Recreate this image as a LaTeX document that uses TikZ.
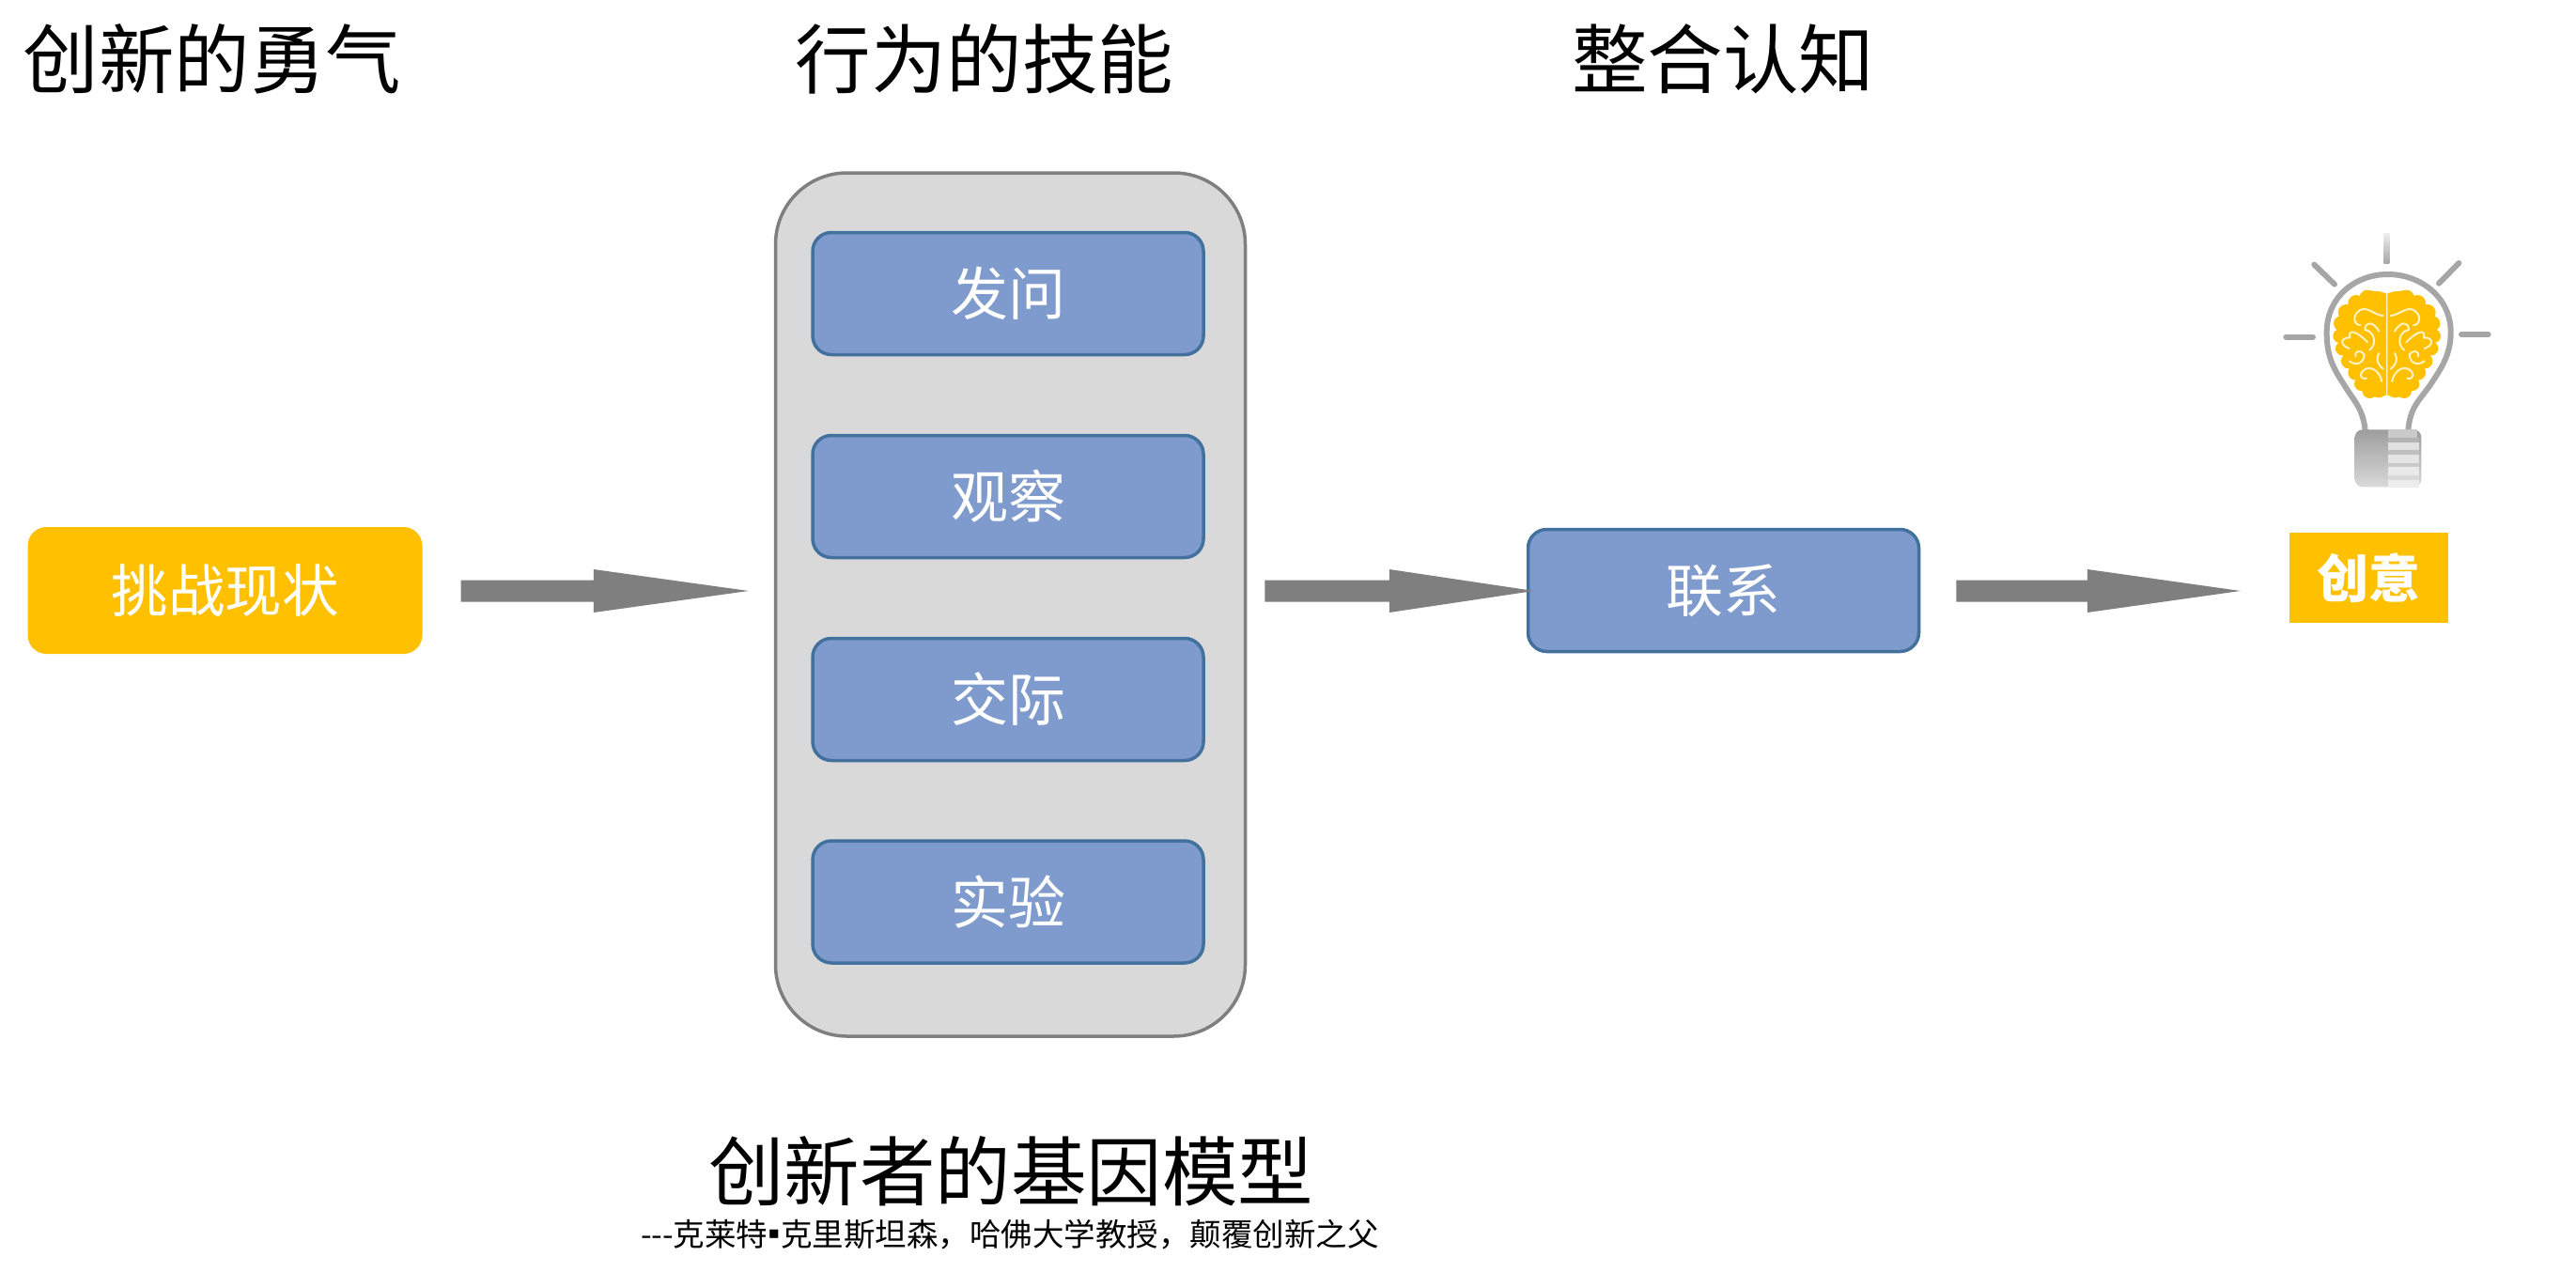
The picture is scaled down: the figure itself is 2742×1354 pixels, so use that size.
\documentclass[tikz,border=0pt]{standalone}
\usepackage{fontspec}
\setmainfont{Noto Sans CJK SC}
\usetikzlibrary{calc}
\definecolor{blueF}{HTML}{7F9BCD}
\definecolor{blueD}{HTML}{41719C}
\definecolor{grayF}{HTML}{D9D9D9}
\definecolor{grayD}{HTML}{7F7F7F}
\definecolor{goldF}{HTML}{FFC000}
\definecolor{rayC}{HTML}{A6A6A6}
\definecolor{brainL}{HTML}{FFF2C4}
\newcommand{\fs}[1]{\fontsize{#1}{#1}\selectfont}
\tikzset{
  x=1pt,y=-1pt,
  titletext/.style={inner sep=0,anchor=center,font=\fs{80.5},text=black},
  skillbox/.style={draw=blueD,fill=blueF,line width=3.5pt,rounded corners=20pt,minimum width=416pt,minimum height=130pt,inner sep=0,text=white,font=\fs{61}},
  goldbox/.style={fill=goldF,inner sep=0,text=white},
  blockarrow/.style={fill=grayD,draw=none},
  ray/.style={line width=6pt,line cap=round,rayC},
}
% #1 tail coordinate, #2 tip coordinate, #3 head length
\newcommand{\blockarrow}[3]{%
  \fill[blockarrow] (#1)++(0,-11.5) -- ($(#2)+(-#3,-11.5)$) -- ($(#2)+(-#3,-23)$) -- (#2)
    -- ($(#2)+(-#3,23)$) -- ($(#2)+(-#3,11.5)$) -- ($(#1)+(0,11.5)$) -- cycle;}
% one brain lobe, drawn in 3x zoom units about the midline x=0, top of brain y=0
\newcommand{\lobe}{%
  \fill[goldF] (-2,8) -- (-50,0) -- (-100,25) -- (-140,60) -- (-160,130) -- (-150,190) -- (-110,260) -- (-85,310) -- (-50,340) -- (-2,335) -- cycle;
  \foreach \cx/\cy/\r in {-28/28/26,-62/24/26,-98/40/26,-130/70/26,-146/105/24,-150/145/22,-142/185/22,-122/225/24,-100/262/24,-82/298/22,-55/320/24,-26/318/24}
    \fill[goldF] (\cx,\cy) circle[radius=\r];
  \begin{scope}[draw=brainL,line width=2pt,line cap=round]
    \draw (-12,80) .. controls (-40,80) and (-70,40) .. (-95,70) .. controls (-110,85) and (-105,110) .. (-85,110);
    \draw (-62,165) .. controls (-95,130) and (-125,120) .. (-118,150) .. controls (-150,150) and (-150,175) .. (-120,185);
    \draw (-25,130) .. controls (-45,95) and (-70,100) .. (-70,125) .. controls (-40,130) and (-30,170) .. (-55,190);
    \draw (-120,225) .. controls (-100,240) and (-75,235) .. (-72,205) .. controls (-85,185) and (-105,195) .. (-100,210);
    \draw (-16,290) .. controls (-25,250) and (-60,235) .. (-80,260) .. controls (-90,275) and (-75,285) .. (-65,280);
    \draw (-25,200) .. controls (-40,225) and (-20,245) .. (-12,250);
  \end{scope}}
\begin{document}
\begin{tikzpicture}
\useasboundingbox (0,0) rectangle (2742,1354);
\fill[white] (0,0) rectangle (2742,1354);

% titles
\node[titletext] (t1) at (226,63) {创新的勇气};
\node[titletext] (t2) at (1048,63) {行为的技能};
\node[titletext] (t3) at (1834,63) {整合认知};
\node[titletext] (t4) at (1076,1247) {创新者的基因模型};
\node[inner sep=0,font=\fs{33.5}] (t5) at (1075,1314) {-{}-{}-克莱特\makebox[14pt]{▪}克里斯坦森，哈佛大学教授，颠覆创新之父};

% gene panel
\node[draw=grayD,fill=grayF,line width=3.5pt,rounded corners=76pt,minimum width=500pt,minimum height=919pt,inner sep=0] (panel) at (1075.5,643.5) {};
\node[skillbox] (ask) at (1073,312.5) {发问};
\node[skillbox] (observe) at (1073,528.5) {观察};
\node[skillbox] (network) at (1073,744.5) {交际};
\node[skillbox] (experiment) at (1073,960) {实验};

% start and link
\node[fill=goldF,rounded corners=20pt,minimum width=420pt,minimum height=135pt,inner sep=0,text=white,font=\fs{60.5}] (challenge) at (239.5,628.5) {挑战现状};
\node[skillbox] (link) at (1834.5,628.5) {联系};
\node[goldbox,minimum width=169pt,minimum height=96pt,font=\fs{55}\bfseries] (idea) at (2521.5,615) {创意};

% block arrows
\coordinate (a1s) at ($(challenge.east)+(41,0.5)$);
\coordinate (a1e) at ($(a1s -| panel.west)+(-27,0)$);
\blockarrow{a1s}{a1e}{165}
\coordinate (a2s) at ($(a1s -| panel.east)+(19,0)$);
\coordinate (a2e) at ($(a2s -| link.west)+(8,0)$);
\blockarrow{a2s}{a2e}{154}
\coordinate (a3s) at ($(link.east)+(38,0.5)$);
\coordinate (a3e) at ($(a3s -| idea.west)+(-52,0)$);
\blockarrow{a3s}{a3e}{163}

% light bulb with brain
\begin{scope}[shift={(2380,220)},scale=1/3]
  \shade[top color=rayC!20,bottom color=rayC] (472,85) rectangle (490,182);
  \draw[ray] (250,185) -- (315,248);
  \draw[ray] (712,180) -- (648,245);
  \draw[ray] (160,416) -- (246,416);
  \draw[ray] (720,408) -- (806,408);
  \begin{scope}[shift={(482,268)}]
    \lobe
    \begin{scope}[xscale=-1]\lobe\end{scope}
    \draw[brainL,line width=1.5pt] (0,15) -- (0,335);
  \end{scope}
  \draw[rayC,line width=6pt] (413,715) .. controls (405,640) and (375,620) .. (340,560)
    .. controls (300,500) and (290,460) .. (290,400)
    .. controls (290,290) and (380,216) .. (485,216)
    .. controls (590,216) and (686,290) .. (686,400)
    .. controls (686,470) and (660,510) .. (620,570)
    .. controls (585,620) and (556,640) .. (550,715);
  \shade[top color=rayC!95!black,bottom color=grayF,rounded corners=8pt] (380,712) rectangle (592,895);
  \fill[rayC!60!white] (485,712) rectangle (580,738);
  \foreach \yy/\sh in {738/0,778/15,818/30,858/50}
    \fill[rayC!85!white!\the\numexpr100-\sh\relax!white] (485,\yy) rectangle (585,\yy+14);
  \foreach \yy/\sh in {752/65,792/70,832/75,872/80}
    \fill[white!\sh!rayC] (485,\yy) rectangle (585,\yy+26);
\end{scope}
\end{tikzpicture}
\end{document}
